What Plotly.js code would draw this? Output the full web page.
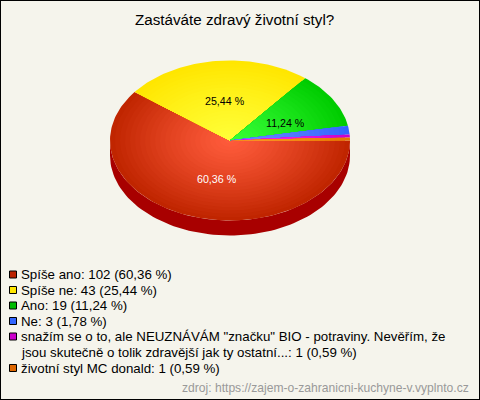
<!DOCTYPE html>
<html><head><meta charset="utf-8">
<script src="https://cdn.plot.ly/plotly-3.0.1.min.js"></script>
<style>html,body{margin:0;padding:0;background:#f5f4ec}#c{width:480px;height:400px}</style>
</head><body><div id="c"></div>
<script>
const categories=["Spíše ano","Spíše ne","Ano","Ne","snažím se o to, ale NEUZNÁVÁM \"značku\" BIO - potraviny. Nevěřím, že<br>jsou skutečně o tolik zdravější jak ty ostatní...","životní styl MC donald"];
const counts=[102,43,19,3,1,1];
const percentLabels=["60,36 %","25,44 %","11,24 %","1,78 %","0,59 %","0,59 %"];
const innerColors=["#ff5c3c","#ffff38","#38ff38","#6c8cff","#ff38ff","#ff9c30"];
const outerColors=["#c02500","#ffe600","#00cc00","#3366ff","#cc00cc","#e87800"];
const swatchColors=["#bb2200","#ffe600","#00bb00","#3366ff","#cc00cc","#dd6600"];
const sideColor="#a80000";
const titleText="Zastáváte zdravý životní styl?";
const sourceText="zdroj: https://zajem-o-zahranicni-kuchyne-v.vyplnto.cz";
const FONT="Liberation Sans, Arial, sans-serif";
const cx=230,cy=140.5,rx=120,ry=80,depth=15;
const total=counts.reduce((a,b)=>a+b,0);
const hex=c=>[1,3,5].map(i=>parseInt(c.substr(i,2),16));
const mix=(a,b,t)=>{const A=hex(a),B=hex(b);return `rgb(${A.map((v,i)=>Math.round(v+(B[i]-v)*t)).join(",")})`;};
const traces=[];
function poly(xs,ys,color){traces.push({x:xs,y:ys,mode:"lines",fill:"toself",fillcolor:color,line:{width:0,color:color},hoverinfo:"skip",showlegend:false,type:"scatter"});}
// side wall, lower half of the ellipse
(function(){const xs=[],ys=[];
 for(let a=0;a<=180;a+=2){xs.push(cx+rx*Math.cos(a*Math.PI/180));ys.push(cy+ry*Math.sin(a*Math.PI/180));}
 for(let a=180;a>=0;a-=2){xs.push(cx+rx*Math.cos(a*Math.PI/180));ys.push(cy+depth+ry*Math.sin(a*Math.PI/180));}
 poly(xs,ys,sideColor);})();
// wedges, clockwise from east, shaded by concentric steps
const STEPS=24;let start=0;
counts.forEach((v,i)=>{const end=start+v/total*360;
 for(let s=0;s<STEPS;s++){const f=1-s/STEPS;const xs=[cx],ys=[cy];
  const n=Math.max(2,Math.ceil((end-start)/1.5));
  for(let k=0;k<=n;k++){const a=(start+(end-start)*k/n)*Math.PI/180;xs.push(cx+f*rx*Math.cos(a));ys.push(cy+f*ry*Math.sin(a));}
  xs.push(cx);ys.push(cy);
  poly(xs,ys,mix(innerColors[i],outerColors[i],Math.pow(f,1.2)));}
 start=end;});
// legend rows
const rowY=[274.5,290,305.5,321,336.5,368];
const lineGap=15.7;
const ann=[];
categories.forEach((c,i)=>{
 traces.push({x:[13],y:[rowY[i]],mode:"markers",type:"scatter",hoverinfo:"skip",showlegend:false,
  marker:{symbol:"square",size:7,color:swatchColors[i],line:{width:1,color:"#000"}}});
 const lines=`${c}: ${counts[i]} (${percentLabels[i]})`.split("<br>");
 lines.forEach((t,k)=>{
  ann.push({x:20,y:rowY[i]-8.5+k*lineGap,xref:"x",yref:"y",xanchor:"left",yanchor:"top",align:"left",showarrow:false,borderpad:0,
   text:t,font:{family:FONT,size:13.3,color:"#000"}});
 });
});
// slice labels
[[0,217,179,"#fff"],[1,225,101,"#000"],[2,285,123,"#000"]].forEach(([i,x,y,col])=>{
 ann.push({x:x,y:y,xref:"x",yref:"y",showarrow:false,text:percentLabels[i],borderpad:0,font:{family:FONT,size:10.67,color:col}});
});
ann.push({x:234,y:19,xref:"x",yref:"y",showarrow:false,text:titleText,borderpad:0,font:{family:FONT,size:15.2,color:"#000"}});
ann.push({x:470,y:388,xref:"x",yref:"y",xanchor:"right",showarrow:false,text:sourceText,borderpad:0,font:{family:FONT,size:12.1,color:"#999999"}});
Plotly.newPlot("c",traces,{
 width:480,height:400,margin:{l:0,r:0,t:0,b:0},paper_bgcolor:"#f5f4ec",plot_bgcolor:"#f5f4ec",showlegend:false,
 xaxis:{range:[0,480],visible:false,fixedrange:true},
 yaxis:{range:[400,0],visible:false,fixedrange:true},
 annotations:ann,
 shapes:[{type:"rect",xref:"paper",yref:"paper",x0:0,x1:1,y0:0,y1:1,line:{width:2,color:"#000"},fillcolor:"rgba(0,0,0,0)"}]
},{displayModeBar:false,staticPlot:true});
</script></body></html>
